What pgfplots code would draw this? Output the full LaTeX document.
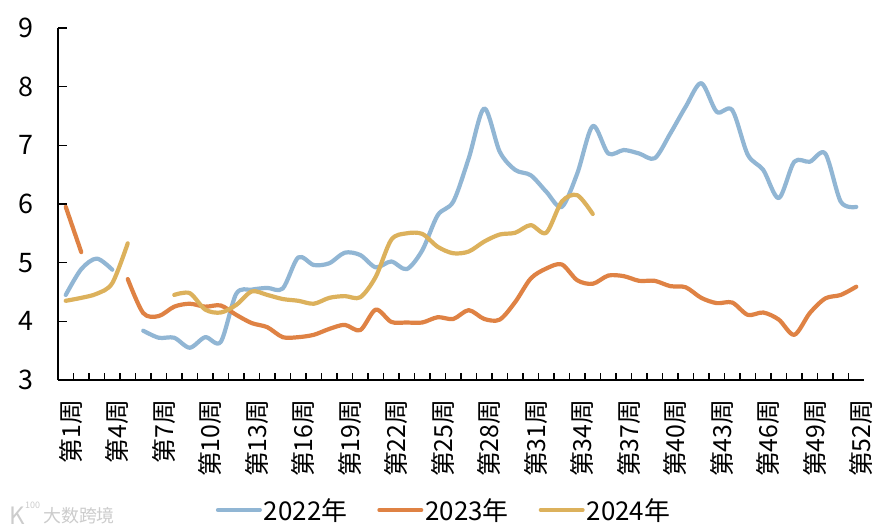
\documentclass[border=0pt]{standalone}
\usepackage{fontspec}
\setmainfont{Noto Sans CJK SC}
\usepackage{pgfplots}
\usepackage{pgfplotstable}
\pgfplotsset{compat=1.18}

\definecolor{c2022}{HTML}{91B6D4}
\definecolor{c2023}{HTML}{DF8244}
\definecolor{c2024}{HTML}{DCB15C}

\pgfplotstableread{
week y22 y23 y24
1 4.45 5.95 4.35
2 4.89 5.18 4.40
3 5.07 nan 4.47
4 4.88 nan 4.65
5 nan 4.72 5.33
6 3.84 4.14 nan
7 3.72 4.09 nan
8 3.72 4.25 4.45
9 3.55 4.30 4.48
10 3.73 4.25 4.20
11 3.65 4.27 4.15
12 4.47 4.11 4.28
13 4.54 3.97 4.51
14 4.57 3.90 4.45
15 4.56 3.73 4.38
16 5.09 3.73 4.35
17 4.96 3.77 4.30
18 4.99 3.87 4.40
19 5.17 3.94 4.43
20 5.13 3.85 4.41
21 4.92 4.20 4.76
22 5.02 3.99 5.39
23 4.89 3.98 5.50
24 5.21 3.98 5.49
25 5.81 4.07 5.27
26 6.04 4.04 5.16
27 6.78 4.19 5.19
28 7.63 4.04 5.36
29 6.89 4.03 5.48
30 6.58 4.33 5.51
31 6.49 4.73 5.64
32 6.21 4.90 5.51
33 5.95 4.97 6.04
34 6.52 4.70 6.15
35 7.33 4.64 5.83
36 6.86 4.78 nan
37 6.92 4.77 nan
38 6.86 4.69 nan
39 6.78 4.69 nan
40 7.20 4.60 nan
41 7.66 4.58 nan
42 8.06 4.40 nan
43 7.57 4.31 nan
44 7.60 4.32 nan
45 6.84 4.11 nan
46 6.58 4.15 nan
47 6.10 4.03 nan
48 6.72 3.77 nan
49 6.72 4.14 nan
50 6.86 4.39 nan
51 6.04 4.45 nan
52 5.95 4.59 nan
}\weekly

\begin{document}
\begin{tikzpicture}[x=1bp,y=1bp]
\useasboundingbox (0,0) rectangle (885,532);
\fill[white] (0,0) rectangle (885,532);
\begin{axis}[
    at={(58bp,152bp)},
    anchor=origin,
    scale only axis,
    width=806bp,
    height=352bp,
    xmin=0.5, xmax=52.5,
    ymin=3, ymax=9,
    axis x line=bottom,
    axis y line=left,
    axis line style={black,line width=2.2bp,-},
    tick align=inside,
    xtick={1,4,...,52},
    xticklabels={第1周,第4周,第7周,第10周,第13周,第16周,第19周,第22周,第25周,第28周,第31周,第34周,第37周,第40周,第43周,第46周,第49周,第52周},
    minor xtick={1.5,2.5,...,51.5},
    major x tick style={draw=none},
    minor x tick style={black,line width=1.6bp},
    minor tick length=7bp,
    ytick={3,...,9},
    major y tick style={black,line width=1.6bp},
    major tick length=9bp,
    x tick label style={rotate=90,anchor=east,font=\fontsize{25}{25}\selectfont,xshift=-16bp,yshift=-5bp},
    y tick label style={font=\fontsize{27}{27}\selectfont,xshift=-21bp},
    /pgf/number format/assume math mode=true,
    unbounded coords=jump,
    clip=false,
    legend style={
        at={(386bp,-130bp)},anchor=center,draw=none,fill=none,
        legend columns=3,font=\fontsize{26}{26}\selectfont,
        /tikz/every even column/.style={column sep=28bp},
        inner sep=0pt,
    },
    legend image code/.code={\draw[#1,line width=4bp,line cap=round] (0bp,0bp)--(42bp,0bp);},
    every axis plot/.append style={line width=4.2bp,smooth,tension=0.5,line cap=round,line join=round},
]
\addplot[c2022] table[x=week,y=y22] {\weekly};
\addplot[c2023] table[x=week,y=y23] {\weekly};
\addplot[c2024] table[x=week,y=y24] {\weekly};
\legend{2022年,2023年,2024年}
\end{axis}
% faint watermark, bottom left
\node[text=black!20,font=\fontsize{24}{24}\selectfont,anchor=west,inner sep=0pt] at (9,16) {K};
\node[text=black!20,font=\fontsize{9}{9}\selectfont,anchor=west,inner sep=0pt] at (25,27) {100};
\node[text=black!20,font=\fontsize{18}{18}\selectfont,anchor=west,inner sep=0pt] at (43,16) {大数跨境};
\end{tikzpicture}
\end{document}
